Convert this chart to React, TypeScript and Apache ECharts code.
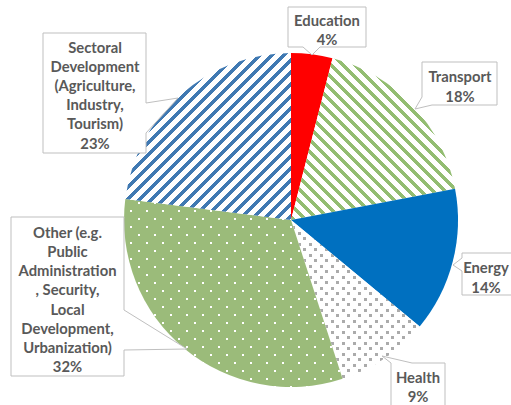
import React, { useEffect, useRef } from "react";
import * as echarts from "echarts";

// ---- data ----
const categories = [
  "Education",
  "Transport",
  "Energy",
  "Health",
  "Other (e.g.\nPublic\nAdministration\n, Security,\nLocal\nDevelopment,\nUrbanization)",
  "Sectoral\nDevelopment\n(Agriculture,\nIndustry,\nTourism)",
];
const shares = [4, 18, 14, 9, 32, 23];

// ---- layout (callout boxes: polygon outline + text block centre) ----
const calloutPolys: number[][][] = [
  [[288, 7], [366, 7], [366, 47], [320, 47], [312, 55], [303, 47], [288, 47]],
  [[422, 62], [497, 62], [497, 105], [432, 105], [415, 109], [422, 97]],
  [[462, 253], [522, 253], [522, 295], [462, 295], [462, 271], [453, 265], [462, 258]],
  [[391, 363], [382, 356], [412, 363], [445, 363], [445, 412], [391, 412]],
  [[11, 217], [124, 217], [124, 310], [187, 349], [124, 350], [124, 376], [11, 376]],
  [[43, 33], [146, 33], [146, 103], [178, 98], [146, 133], [146, 153], [43, 153]],
];
const textCenters: number[][] = [
  [327, 29.5],
  [460, 86],
  [486, 277],
  [418, 386.5],
  [67.5, 299],
  [95, 94.5],
];

function makeCanvas(size: number, fn: (x: number, y: number) => string | null, bg: string) {
  const c = document.createElement("canvas");
  c.width = size;
  c.height = size;
  const ctx = c.getContext("2d")!;
  ctx.fillStyle = bg;
  ctx.fillRect(0, 0, size, size);
  for (let y = 0; y < size; y++) {
    for (let x = 0; x < size; x++) {
      const col = fn(x, y);
      if (col) {
        ctx.fillStyle = col;
        ctx.fillRect(x, y, 1, 1);
      }
    }
  }
  return c;
}

export default function App() {
  const ref = useRef<HTMLDivElement>(null);
  useEffect(() => {
    document.body.style.margin = "0";
    const chart = echarts.init(ref.current!, null, { renderer: "svg" });
    const green = "#9BBB7A";
    const stripeGreen = "#93BD72";
    const blueStripe = "#4079B2";
    const P = 12;
    const transportPat = makeCanvas(P, (x, y) => (((x - y) % P) + P) % P < 5 ? stripeGreen : null, "#ffffff");
    const sectoralPat = makeCanvas(P, (x, y) => (x + y) % P < 5 ? blueStripe : null, "#ffffff");
    const otherPat = makeCanvas(16, (x, y) => {
      const a = x >= 2 && x < 4 && y >= 2 && y < 4;
      const b = x >= 10 && x < 12 && y >= 10 && y < 12;
      return a || b ? "#ffffff" : null;
    }, green);
    const healthPat = makeCanvas(11, (x, y) => {
      const a = x >= 1 && x < 4 && y >= 1 && y < 4;
      const b = x >= 6 && x < 9 && y >= 6 && y < 9;
      return a || b ? "#ABABAB" : null;
    }, "#ffffff");

    const fills: any[] = [
      "#FF0000",
      { image: transportPat, repeat: "repeat" },
      "#0070C0",
      { image: healthPat, repeat: "repeat" },
      { image: otherPat, repeat: "repeat" },
      { image: sectoralPat, repeat: "repeat" },
    ];

    const font = "bold 14.8px Lato, 'Noto Sans', sans-serif";
    const graphics: any[] = [];
    categories.forEach((name, i) => {
      graphics.push({
        type: "polygon",
        z: 100,
        shape: { points: calloutPolys[i] },
        style: { fill: "#ffffff", stroke: "#BFBFBF", lineWidth: 1 },
        silent: true,
      });
      graphics.push({
        type: "text",
        z: 101,
        x: textCenters[i][0],
        y: textCenters[i][1],
        style: {
          text: name + "\n" + shares[i] + "%",
          font,
          fill: "#595959",
          align: "center",
          verticalAlign: "middle",
          lineHeight: 19.2,
        },
        silent: true,
      });
    });

    chart.setOption({
      animation: false,
      graphic: { elements: graphics },
      series: [
        {
          type: "pie",
          center: [291, 220],
          radius: 167,
          startAngle: 90,
          clockwise: true,
          silent: true,
          label: { show: false },
          labelLine: { show: false },
          emphasis: { disabled: true },
          itemStyle: { borderWidth: 0 },
          data: categories.map((n, i) => ({
            name: n,
            value: shares[i],
            itemStyle: { color: fills[i] },
          })),
        },
      ],
    });
    return () => chart.dispose();
  }, []);
  return (
    <div
      ref={ref}
      style={{ position: "absolute", left: 0, top: 0, width: 511, height: 405 }}
    />
  );
}
